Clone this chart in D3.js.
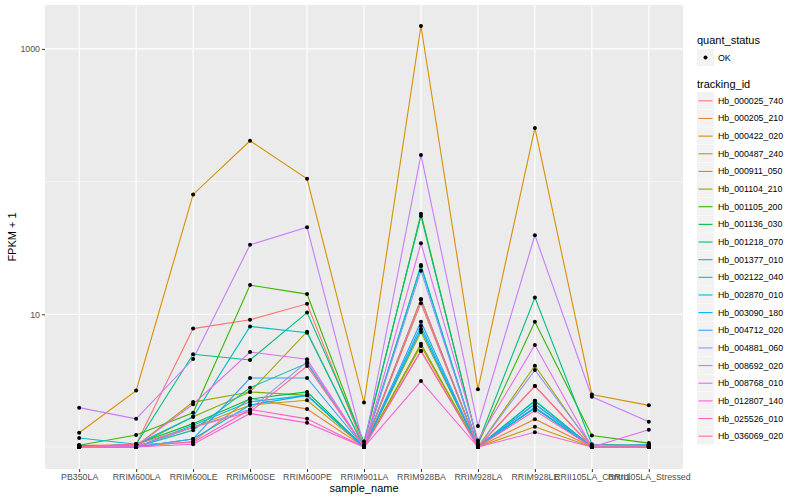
<!DOCTYPE html>
<html>
<head>
<meta charset="utf-8">
<script src="https://cdn.jsdelivr.net/npm/d3@7"></script>
<style>
  body { margin: 0; background: #fff; }
  text { font-family: "Liberation Sans", Arial, sans-serif; }
</style>
</head>
<body>
<div class="chart"></div>
<script>
// samples along the x axis
var samples = ["PB350LA","RRIM600LA","RRIM600LE","RRIM600SE","RRIM600PE","RRIM901LA",
  "RRIM928BA","RRIM928LA","RRIM928LE","RRII105LA_Control","RRII105LA_Stressed"]

var trackingIds = ["Hb_000025_740","Hb_000205_210","Hb_000422_020","Hb_000487_240",
  "Hb_000911_050","Hb_001104_210","Hb_001105_200","Hb_001136_030","Hb_001218_070",
  "Hb_001377_010","Hb_002122_040","Hb_002870_010","Hb_003090_180","Hb_004712_020",
  "Hb_004881_060","Hb_008692_020","Hb_008768_010","Hb_012807_140","Hb_025526_010",
  "Hb_036069_020"]

// FPKM + 1, one row per tracking id
var fpkm = [
  [1.02,1.05,7.8,9.1,12.0,1.0,12.1,1.0,2.88,1.0,1.0],
  [1.01,1.0,1.1,2.33,1.93,1.0,5.3,1.0,1.62,1.0,1.02],
  [1.28,2.66,80,203,105,2.16,1488,2.72,254,2.49,2.06],
  [1.0,1.0,1.41,2.07,2.25,1.0,5.77,1.0,1.42,1.0,1.0],
  [1.03,1.02,2.18,2.6,7.39,1.0,7.35,1.0,4.1,1.0,1.03],
  [1.0,1.02,1.69,2.6,2.45,1.0,6.0,1.0,1.97,1.0,1.02],
  [1.03,1.23,1.81,16.6,14.2,1.05,57.3,1.05,8.8,1.22,1.07],
  [1.0,1.05,1.5,2.3,2.6,1.0,13.0,1.0,2.23,1.0,1.0],
  [1.0,1.05,5.0,4.53,10.3,1.1,55,1.07,13.4,1.05,1.03],
  [1.03,1.0,1.34,2.8,4.27,1.0,23.5,1.0,2.23,1.0,1.0],
  [1.17,1.05,1.69,8.1,7.26,1.0,23.0,1.0,2.11,1.0,1.05],
  [1.0,1.0,1.46,2.19,2.45,1.0,8.15,1.0,2.0,1.0,1.0],
  [1.0,1.0,1.15,2.07,2.45,1.0,7.7,1.0,1.97,1.0,1.0],
  [1.0,1.0,1.15,3.31,3.31,1.0,8.8,1.0,2.11,1.0,1.0],
  [1.0,1.0,1.41,1.92,4.39,1.0,21.3,1.0,3.8,1.03,1.03],
  [1.98,1.63,4.6,33.4,45.3,1.0,159,1.44,39.5,2.39,1.55],
  [1.0,1.02,2.1,5.2,4.58,1.0,34.3,1.12,5.87,1.0,1.35],
  [1.0,1.0,1.05,1.79,1.52,1.0,3.14,1.0,1.29,1.0,1.0],
  [1.0,1.05,1.08,1.92,1.63,1.0,5.3,1.0,1.88,1.0,1.0],
  [1.0,1.05,1.41,1.84,4.08,1.0,13.0,1.0,2.88,1.0,1.0]
]

var colors = ["#F8766D","#EA8331","#D89000","#C09B00","#A3A500","#7CAE00","#39B600",
  "#00BB4E","#00BF7D","#00C1A3","#00BFC4","#00BAE0","#00B0F6","#35A2FF","#9590FF",
  "#C77CFF","#E76BF3","#FA62DB","#FF62BC","#FF6C91"]

var yTicks = [10, 1000]
var yMinor = [1, 100]

var W = 800, H = 500
var pLeft = 45, pRight = 683, pTop = 5, pBottom = 469

var svg = d3.select('.chart').append('svg')
  .attr('width', W).attr('height', H)

var x = d3.scalePoint().domain(samples).range([pLeft, pRight]).padding(0.6)
var y = d3.scaleLog().domain([1, 1488]).range([447, 26])
// ggplot-like 5% expansion
var lo = y.invert(pBottom), hi = y.invert(pTop)
y.domain([lo, hi]).range([pBottom, pTop])

svg.append('rect')
  .attr('x', pLeft).attr('y', pTop)
  .attr('width', pRight - pLeft).attr('height', pBottom - pTop)
  .attr('fill', '#EBEBEB')

svg.selectAll('.minor').data(yMinor).enter().append('line')
  .attr('x1', pLeft).attr('x2', pRight)
  .attr('y1', d => y(d)).attr('y2', d => y(d))
  .attr('stroke', '#fff').attr('stroke-width', 0.55)

svg.selectAll('.hgrid').data(yTicks).enter().append('line')
  .attr('x1', pLeft).attr('x2', pRight)
  .attr('y1', d => y(d)).attr('y2', d => y(d))
  .attr('stroke', '#fff').attr('stroke-width', 1.1)

svg.selectAll('.vgrid').data(samples).enter().append('line')
  .attr('x1', d => x(d)).attr('x2', d => x(d))
  .attr('y1', pTop).attr('y2', pBottom)
  .attr('stroke', '#fff').attr('stroke-width', 1.1)

// axes
var yAxis = d3.axisLeft(y).tickValues(yTicks).tickFormat(d3.format('d')).tickSize(3).tickPadding(2)
var gy = svg.append('g').attr('transform', `translate(${pLeft},0)`).call(yAxis)
var xAxis = d3.axisBottom(x).tickSize(3).tickPadding(2)
var gx = svg.append('g').attr('transform', `translate(0,${pBottom})`).call(xAxis)
;[gx, gy].forEach(g => {
  g.select('.domain').remove()
  g.selectAll('.tick line').attr('stroke', '#333').attr('stroke-width', 1)
  g.selectAll('.tick text').attr('fill', '#4D4D4D').style('font-size', '8.8px')
    .style('font-family', '"Liberation Sans", Arial, sans-serif')
})

var line = d3.line().x((d, i) => x(samples[i])).y(d => y(d))

svg.selectAll('.series').data(fpkm).enter().append('path')
  .attr('d', d => line(d))
  .attr('fill', 'none')
  .attr('stroke', (d, i) => colors[i])
  .attr('stroke-width', 1.1)

fpkm.forEach(row => {
  svg.append('g').selectAll('circle').data(row).enter().append('circle')
    .attr('cx', (d, i) => x(samples[i]))
    .attr('cy', d => y(d))
    .attr('r', 2)
    .attr('fill', '#000')
})

// axis titles
svg.append('text').attr('x', (pLeft + pRight) / 2).attr('y', 492)
  .attr('text-anchor', 'middle').style('font-size', '11px').text('sample_name')
svg.append('text').attr('transform', `translate(16,${(pTop + pBottom) / 2}) rotate(-90)`)
  .attr('text-anchor', 'middle').style('font-size', '11px').text('FPKM + 1')

// legends
var lg = svg.append('g')
lg.append('text').attr('x', 697).attr('y', 44).style('font-size', '11px').text('quant_status')
lg.append('rect').attr('x', 697).attr('y', 49).attr('width', 17).attr('height', 17).attr('fill', '#F2F2F2')
lg.append('circle').attr('cx', 705.5).attr('cy', 57.5).attr('r', 2).attr('fill', '#000')
lg.append('text').attr('x', 718).attr('y', 60.5).style('font-size', '8.8px').text('OK')

lg.append('text').attr('x', 697).attr('y', 88).style('font-size', '11px').text('tracking_id')
var step = 17.65
var items = lg.selectAll('.item').data(trackingIds).enter().append('g')
  .attr('transform', (d, i) => `translate(697,${92 + i * step})`)
items.append('rect').attr('width', 17).attr('height', step - 0.5).attr('fill', '#F2F2F2')
items.append('line').attr('x1', 1.5).attr('x2', 15.5)
  .attr('y1', step / 2).attr('y2', step / 2)
  .attr('stroke', (d, i) => colors[i]).attr('stroke-width', 1.1)
items.append('text').attr('x', 21).attr('y', step / 2 + 3)
  .style('font-size', '8.8px').text(d => d)
</script>
</body>
</html>
